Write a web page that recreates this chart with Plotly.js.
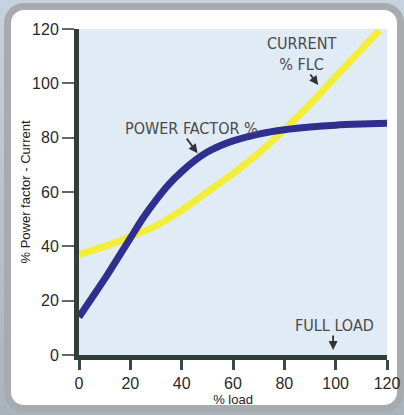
<!DOCTYPE html>
<html>
<head>
<meta charset="utf-8">
<script src="https://cdn.plot.ly/plotly-3.0.1.min.js"></script>
<style>
  html, body { margin: 0; padding: 0; width: 404px; height: 415px; overflow: hidden;
    background: linear-gradient(to bottom, #c6d3df 0%, #b3c0cb 60%, #a9b3bc 100%); }
  #frame { position: absolute; left: 4px; top: 3px; width: 386px; height: 395px;
    border: 7px solid #a7abae; border-radius: 20px; background: #ffffff; }
  #chart { position: absolute; left: 0; top: 0; width: 404px; height: 415px; }
</style>
</head>
<body>
<div id="frame"></div>
<div id="chart"></div>
<script>
// Power factor (%) vs % load
const pfLoad = [0, 5, 10, 15, 20, 25, 30, 35, 40, 45, 50, 55, 60, 70, 80, 90, 100, 110, 120];
const pfValues = [14, 21, 28, 35.5, 43, 50.5, 57, 62.8, 67.5, 71.5, 74.7, 77, 78.8, 81.3, 82.9, 83.9, 84.6, 85, 85.3];

// Current (% FLC) vs % load
const curLoad = [0, 10, 20, 30, 40, 50, 60, 70, 80, 90, 100, 110, 117];
const curValues = [37, 40, 43.5, 47.5, 53.3, 60, 66.8, 74.3, 83, 92.3, 102.5, 112.5, 119.5];

const xTicks = [0, 20, 40, 60, 80, 100, 120];
const yTicks = [0, 20, 40, 60, 80, 100, 120];

const labelFont = { family: 'DejaVu Sans Condensed, Liberation Sans Narrow, Arial Narrow, sans-serif', size: 16, color: '#4a4a4a' };
const tickFont = { family: 'Liberation Sans, Arial, sans-serif', size: 16, color: '#2a2a2a' };
const titleFont = { family: 'Liberation Sans, Arial, sans-serif', size: 13, color: '#222' };

const traces = [
  { x: curLoad, y: curValues, mode: 'lines', line: { color: '#f3ee3c', width: 7, shape: 'spline', smoothing: 0.8 }, hoverinfo: 'skip' },
  { x: pfLoad, y: pfValues, mode: 'lines', line: { color: '#2e2f8e', width: 7, shape: 'spline', smoothing: 0.8 }, hoverinfo: 'skip' }
];

const layout = {
  width: 404, height: 415,
  margin: { l: 79, r: 17, t: 29, b: 60 },
  paper_bgcolor: 'rgba(0,0,0,0)',
  plot_bgcolor: '#e0ebf6',
  showlegend: false,
  xaxis: {
    range: [0, 120], tickvals: xTicks, ticktext: xTicks.map(String),
    showgrid: false, zeroline: false,
    showline: true, linecolor: '#2f3f3a', linewidth: 5,
    ticks: 'outside', ticklen: 10, tickwidth: 3, tickcolor: '#3c4845',
    tickfont: tickFont,
    title: { text: '% load', font: titleFont, standoff: 0 }
  },
  yaxis: {
    range: [0, 120], tickvals: yTicks, ticktext: yTicks.map(String),
    showgrid: false, zeroline: false,
    showline: true, linecolor: '#2f3f3a', linewidth: 5,
    ticks: 'outside', ticklen: 12, tickwidth: 2, tickcolor: '#666',
    tickfont: tickFont,
    title: { text: '% Power factor - Current', font: titleFont, standoff: 0 }
  },
  annotations: [
    { x: 43.9, y: 83.5, text: 'POWER FACTOR %', showarrow: false, font: labelFont },
    { x: 86.6, y: 110.8, text: 'CURRENT<br>% FLC', showarrow: false, font: labelFont },
    { x: 99.4, y: 10.7, text: 'FULL LOAD', showarrow: false, font: labelFont },
    { x: 46.2, y: 74.3, text: '', showarrow: true, ax: -12, ay: -16, arrowhead: 2, arrowsize: 1, arrowwidth: 1.8, arrowcolor: '#333' },
    { x: 93.2, y: 99.4, text: '', showarrow: true, ax: -9, ay: -12, arrowhead: 2, arrowsize: 1, arrowwidth: 1.8, arrowcolor: '#333' },
    { x: 99, y: 1.8, text: '', showarrow: true, ax: 0, ay: -16, arrowhead: 2, arrowsize: 1, arrowwidth: 1.8, arrowcolor: '#333' }
  ]
};

Plotly.newPlot('chart', traces, layout, { staticPlot: true, displayModeBar: false });
</script>
</body>
</html>
